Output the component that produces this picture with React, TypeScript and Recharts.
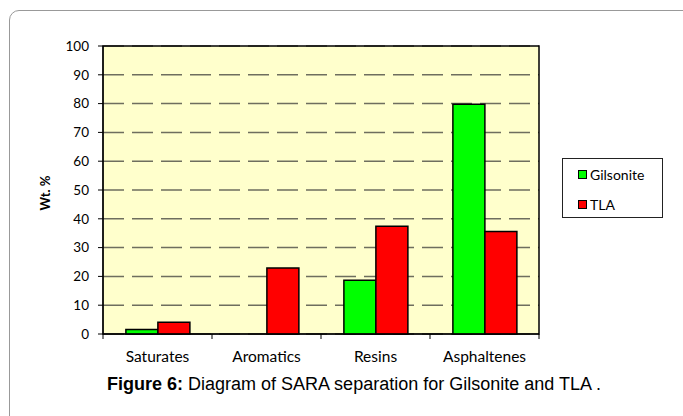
import React from 'react';
import { BarChart, Bar, XAxis, YAxis, CartesianGrid, ReferenceArea, Label } from 'recharts';

const categories = ['Saturates', 'Aromatics', 'Resins', 'Asphaltenes'];
const gilsonite = [1.6, 0, 18.7, 79.8];
const tla = [4.1, 22.9, 37.4, 35.6];
const yTicks = [0, 10, 20, 30, 40, 50, 60, 70, 80, 90, 100];
const seriesNames = ['Gilsonite', 'TLA'];
const seriesColors = ['#00ff00', '#ff0000'];

const data = categories.map((name, i) => ({ name, Gilsonite: gilsonite[i], TLA: tla[i] }));

const W = 683;
const H = 416;
// x-axis keeps its own 30px on top of the bottom margin
const margin = { top: 46, right: 144, bottom: 52, left: 43 };
const plotW = W - margin.left - 60 - margin.right;
const band = plotW / categories.length;
const tickFont = 'Lato, "Open Sans", sans-serif';

const CategoryTick = (props: any) => {
  const { x, y, payload, index } = props;
  const last = index === categories.length - 1;
  return (
    <g>
      <line x1={x - band / 2} x2={x - band / 2} y1={y - 8} y2={y - 3} stroke="#000" />
      {last && <line x1={x + band / 2} x2={x + band / 2} y1={y - 8} y2={y - 3} stroke="#000" />}
      <text x={x} y={y + 20} textAnchor="middle" fontSize={15.5} fontFamily={tickFont} fill="#000">
        {payload.value}
      </text>
    </g>
  );
};

const LegendBox = () => (
  <div
    style={{
      position: 'absolute',
      left: 562,
      top: 158,
      width: 101,
      height: 60,
      border: '1px solid #222',
      background: '#fff',
      boxSizing: 'border-box',
      fontFamily: tickFont,
      fontSize: 14,
      color: '#000',
      paddingLeft: 15,
      paddingTop: 4,
    }}
  >
    {seriesNames.map((label, i) => (
      <div key={label} style={{ display: 'flex', alignItems: 'center', height: 22, marginBottom: 8 }}>
        <span style={{ width: 7, height: 7, background: seriesColors[i], border: '1px solid #000', marginRight: 3 }} />
        {label}
      </div>
    ))}
  </div>
);

const App: React.FC = () => {
  return (
    <div style={{ position: 'absolute', left: 0, top: 0, width: W, height: H, overflow: 'hidden', background: '#fff' }}>
      <div
        style={{
          position: 'absolute',
          left: 9,
          top: 10,
          width: 720,
          height: 440,
          border: '1px solid #999',
          borderRadius: 10,
        }}
      />
      <div style={{ position: 'absolute', left: 0, top: 0 }}>
        <BarChart width={W} height={H} data={data} margin={margin} barCategoryGap="21%" barGap={0}>
          <CartesianGrid
            vertical={false}
            fill="#ffffcc"
            stroke="#6e6e5e"
            strokeWidth={1.5}
            strokeDasharray="21 8"
          />
          <XAxis
            dataKey="name"
            axisLine={{ stroke: '#000' }}
            tickLine={false}
            tick={<CategoryTick />}
            interval={0}
          />
          <YAxis
            width={60}
            domain={[0, 100]}
            ticks={yTicks}
            interval={0}
            axisLine={{ stroke: '#000' }}
            tickLine={{ stroke: '#000' }}
            tickSize={5}
            tickMargin={9}
            tick={{ fontSize: 13.5, fontFamily: tickFont, fill: '#000' }}
          >
            <Label
              value="Wt. %"
              angle={-90}
              position="left"
              offset={-2}
              dy={3}
              style={{ fontSize: 13, fontWeight: 'bold', fontFamily: tickFont, fill: '#000', textAnchor: 'middle' }}
            />
          </YAxis>
          <ReferenceArea y1={0} y2={100} fill="none" stroke="#000" strokeWidth={1.5} ifOverflow="visible" />
          <Bar dataKey="Gilsonite" fill={seriesColors[0]} stroke="#000" strokeWidth={1.5} isAnimationActive={false} />
          <Bar dataKey="TLA" fill={seriesColors[1]} stroke="#000" strokeWidth={1.5} isAnimationActive={false} />
        </BarChart>
      </div>
      <LegendBox />
      <div
        style={{
          position: 'absolute',
          left: 0,
          width: 708,
          top: 375,
          textAlign: 'center',
          fontFamily: '"Liberation Sans", Arial, sans-serif',
          fontSize: 18,
          lineHeight: '18px',
          color: '#000',
          whiteSpace: 'nowrap',
        }}
      >
        <b>Figure 6:</b> Diagram of SARA separation for Gilsonite and TLA .
      </div>
    </div>
  );
};

export default App;
